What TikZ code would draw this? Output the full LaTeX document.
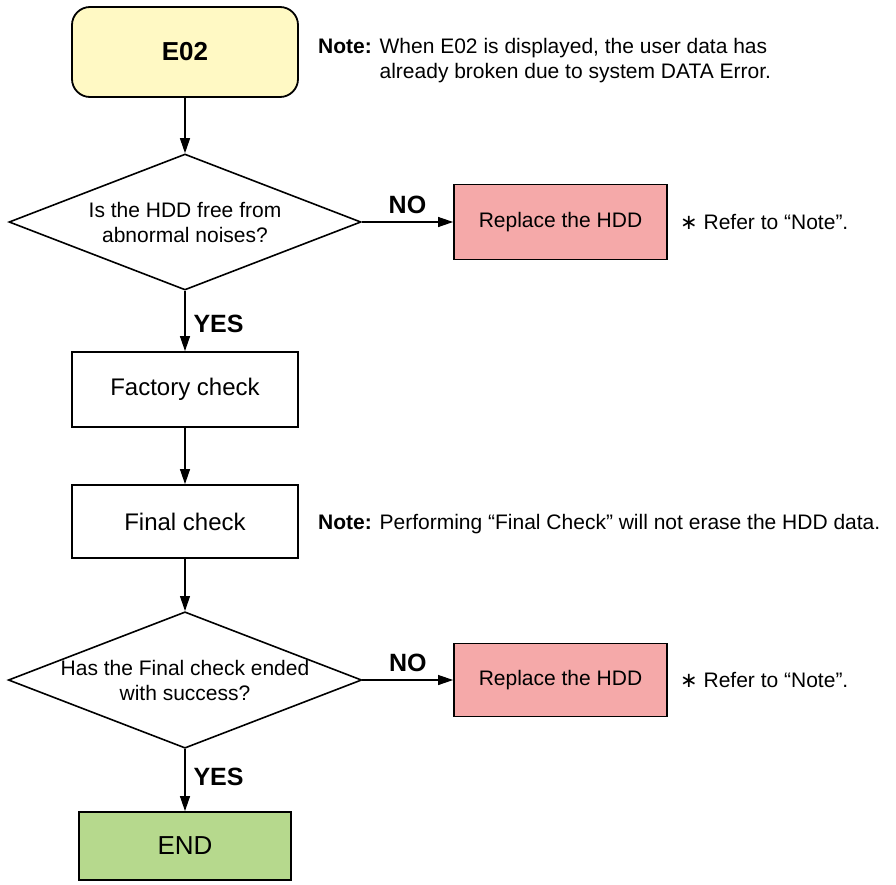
\documentclass[tikz,border=0pt]{standalone}
\usepackage{fontspec}
\setmainfont{Liberation Sans}
\newfontfamily\dvfont{DejaVu Sans}
\usetikzlibrary{shapes.geometric,arrows.meta}
\definecolor{yel}{HTML}{FFF9C4}
\definecolor{pnk}{HTML}{F5A9A9}
\definecolor{grn}{HTML}{B6D98D}
\begin{document}
\begin{tikzpicture}[x=1pt,y=-1pt,
  box/.style={draw, line width=1.8pt, minimum width=226pt, minimum height=75pt, inner sep=0pt, font=\fontsize{24}{28}\selectfont},
  repbox/.style={draw, fill=pnk, line width=1.8pt, minimum width=213pt, minimum height=75pt, inner sep=0pt, font=\fontsize{21}{25}\selectfont},
  dia/.style={draw, diamond, line width=1.6pt, minimum width=352pt, minimum height=136pt, inner sep=0pt, aspect=2.59, align=center, font=\fontsize{21}{25}\selectfont},
  arr/.style={-{Triangle[length=15pt,width=10pt]}, line width=1.1pt},
  lbl/.style={font=\bfseries\fontsize{25}{28}\selectfont, inner sep=0pt},
  txt/.style={font=\fontsize{21}{25}\selectfont, anchor=base west, inner sep=0pt}]
\useasboundingbox (0,0) rectangle (896,884);

\node[box, rounded corners=18pt, fill=yel, minimum height=90pt, font=\bfseries\fontsize{26}{30}\selectfont] (e02) at (185,52) {E02};
\node[txt] (note1) at (318,53) {\begin{tabular}[t]{@{}l@{ }l@{}}\textbf{Note:} & When E02 is displayed, the user data has\\ & already broken due to system DATA Error.\end{tabular}};

\node[dia] (d1) at (185,222) {Is the HDD free from\\abnormal noises?};
\node[repbox] (rep1) at (560.5,222) {Replace the HDD};
\node[txt] (ref1) at (680,229.5) {{\dvfont ∗} Refer to “Note”.};

\node[box] (fac) at (185,389.5) {Factory check};
\node[box, minimum height=73pt] (fin) at (185,521.5) {Final check};
\node[txt] (note2) at (318,529.5) {\textbf{Note:} Performing “Final Check” will not erase the HDD data.};

\node[dia, minimum height=135pt] (d2) at (185,680) {Has the Final check ended\\with success?};
\node[repbox, minimum height=73pt] (rep2) at (560.5,680) {Replace the HDD};
\node[txt] (ref2) at (680,687.5) {{\dvfont ∗} Refer to “Note”.};

\node[box, fill=grn, minimum width=212pt, minimum height=68pt, font=\fontsize{26}{30}\selectfont] (end) at (185,846) {END};

\draw[arr] (e02.south) -- (d1.north);
\draw[arr] (d1.east) -- node[lbl, above=8pt] (no1) {NO} (rep1.west);
\draw[arr] (d1.south) -- node[lbl, right=8pt, pos=0.55] (yes1) {YES} (fac.north);
\draw[arr] (fac.south) -- (fin.north);
\draw[arr] (fin.south) -- (d2.north);
\draw[arr] (d2.east) -- node[lbl, above=8pt] (no2) {NO} (rep2.west);
\draw[arr] (d2.south) -- node[lbl, right=8pt, pos=0.45] (yes2) {YES} (end.north);
\end{tikzpicture}
\end{document}
